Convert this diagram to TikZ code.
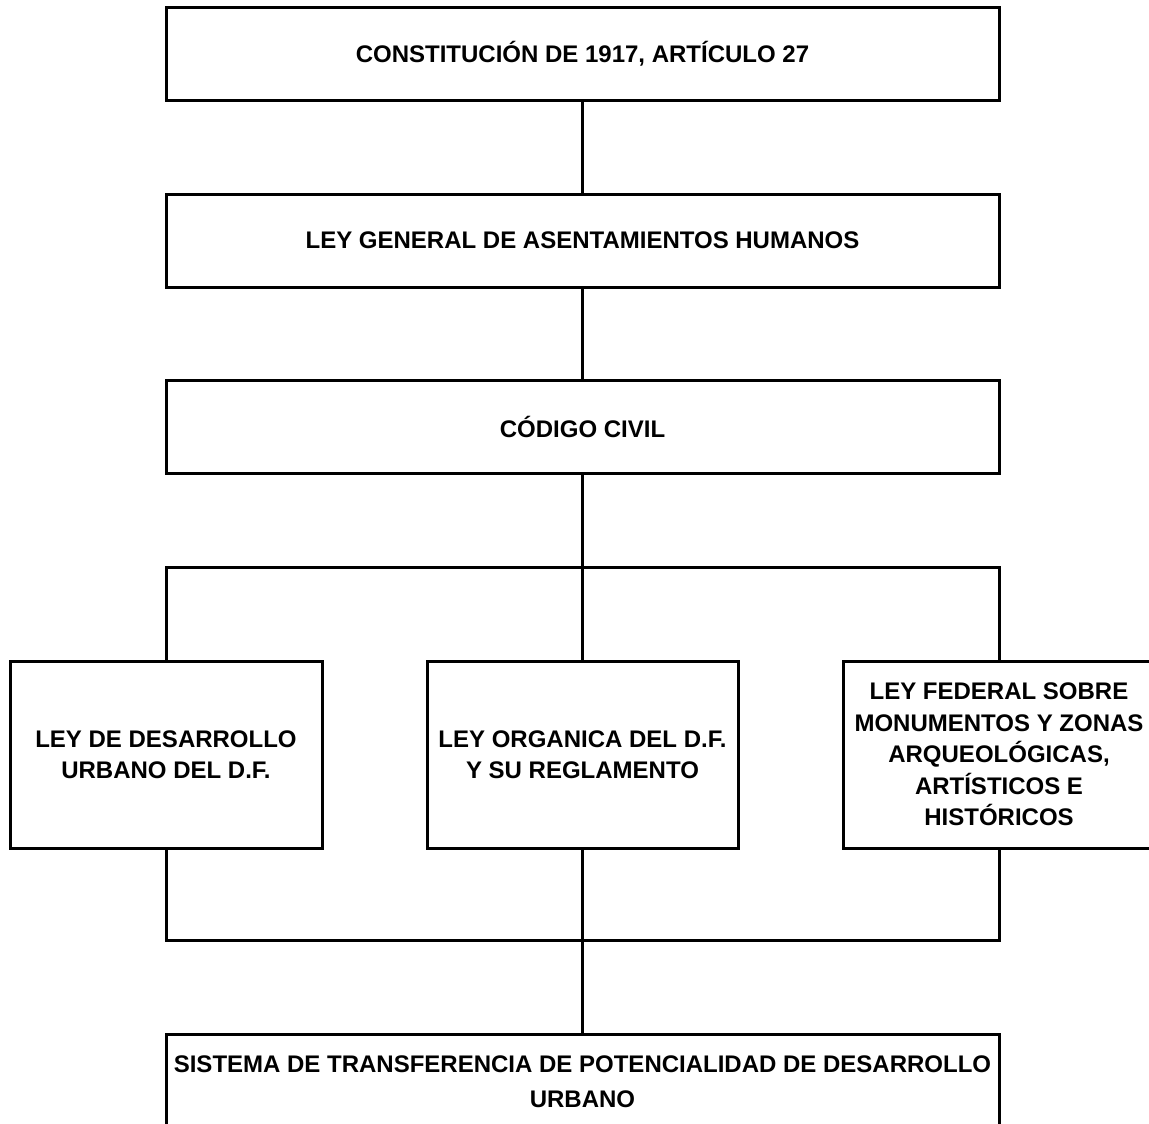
\documentclass[tikz,border=0pt]{standalone}
\usepackage{fontspec}
\setmainfont{Liberation Sans}
\begin{document}
\begin{tikzpicture}[x=1pt,y=-1pt,
  box/.style={draw=black, line width=3pt, rectangle, align=center, inner sep=0pt,
    font=\fontsize{24}{31.5}\selectfont\bfseries},
  wide/.style={box, minimum width=833pt, minimum height=93pt},
  mid/.style={box, minimum width=312pt, minimum height=187pt},
  conn/.style={line width=3pt}]
\useasboundingbox (0,0) rectangle (1149,1124);
\clip (0,0) rectangle (1149,1124);
\fill[white] (0,0) rectangle (1149,1124);
\node[wide] (c1) at (582.5,54) {CONSTITUCIÓN DE 1917, ARTÍCULO 27};
\node[wide] (lg) at (582.5,240.5) {LEY GENERAL DE ASENTAMIENTOS HUMANOS};
\node[wide] (cc) at (582.5,427) {CÓDIGO CIVIL};
\node[mid] (ld) at (166,754.5) {LEY DE DESARROLLO\\URBANO DEL D.F.};
\node[mid, minimum width=311pt] (lo) at (582.5,754.5) {LEY ORGANICA DEL D.F.\\Y SU REGLAMENTO};
\node[mid] (lf) at (999,754.5) {LEY FEDERAL SOBRE\\MONUMENTOS Y ZONAS\\ARQUEOLÓGICAS,\\ARTÍSTICOS E\\HISTÓRICOS};
\node[wide, minimum height=94pt, anchor=north] (st) at (582.5,1033) {SISTEMA DE TRANSFERENCIA DE POTENCIALIDAD DE DESARROLLO\\[3pt]URBANO};
\coordinate (ftop) at (582.5,567);
\coordinate (fbot) at (582.5,940);
\draw[conn] (c1.south) -- (lg.north);
\draw[conn] (lg.south) -- (cc.north);
\draw[conn] (cc.south) -- (lo.north);
\draw[conn] (ld.north) -- (ld.north |- ftop) -- (lf.north |- ftop) -- (lf.north);
\draw[conn] (ld.south) -- (ld.south |- fbot) -- (lf.south |- fbot) -- (lf.south);
\draw[conn] (lo.south) -- (st.north);
\end{tikzpicture}
\end{document}
